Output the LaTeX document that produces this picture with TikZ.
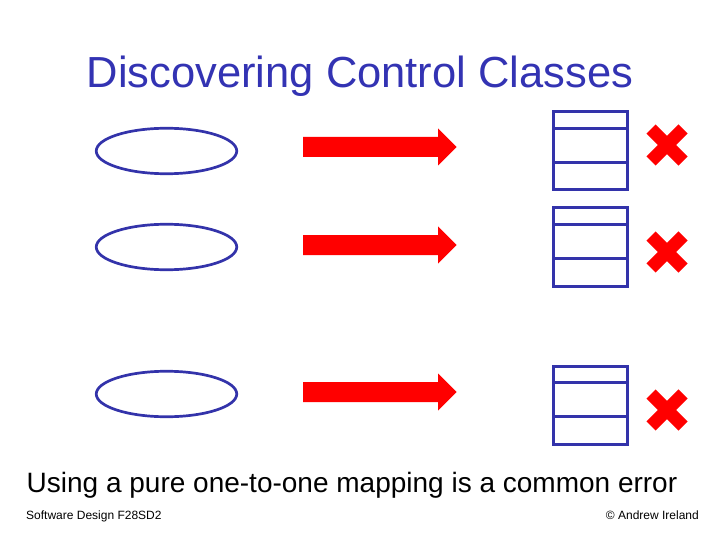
\documentclass[tikz,border=0pt]{standalone}
\usepackage{fontspec}
\setmainfont{Liberation Sans}
\usetikzlibrary{shapes.geometric}
\definecolor{slideblue}{RGB}{51,51,170}
\definecolor{titleblue}{RGB}{51,51,179}
\tikzstyle{usecase} = [ellipse, draw=slideblue, line width=2.7pt, minimum width=140.5pt, minimum height=45.5pt, inner sep=0pt]
\tikzstyle{classbox} = [draw=slideblue, line width=3pt]
\tikzstyle{cross} = [red, line width=13pt]
\begin{document}
\begin{tikzpicture}[x=1pt,y=-1pt]
\useasboundingbox (0,0) rectangle (720,540);
\node[text=titleblue, font=\fontsize{43.5}{48}\selectfont, anchor=base] (title) at (360,88) {Discovering Control Classes};

% use cases
\foreach \y/\n in {151/one,247/two,394/three}{
\node[usecase] (uc\n) at (166.5,\y) {};
}

% arrows
\foreach \y in {147,245,392}{
\fill[red] (303,\y-10)--(438,\y-10)--(438,\y-18.5)--(456.5,\y)--(438,\y+18.5)--(438,\y+10)--(303,\y+10)--cycle;
}

% classes
\foreach \t in {112,208,366}{
\draw[classbox] (553,\t) rectangle (627,\t+78);
\draw[classbox] (553,\t+16.5)--(627,\t+16.5) (553,\t+50.5)--(627,\t+50.5);
}

% crosses
\foreach \y in {145,252,410}{
\draw[cross] (667-16,\y-16)--(667+16,\y+16) (667-16,\y+16)--(667+16,\y-16);
}

\node[font=\fontsize{28}{33}\selectfont, anchor=base] (note) at (352,492) {Using a pure one-to-one mapping is a common error};
\node[font=\fontsize{12}{14}\selectfont, anchor=base west, inner sep=0pt] (course) at (26,519) {Software Design F28SD2};
\node[font=\fontsize{12}{14}\selectfont, anchor=base east, inner sep=0pt] (author) at (699,519) {© Andrew Ireland};
\end{tikzpicture}
\end{document}
